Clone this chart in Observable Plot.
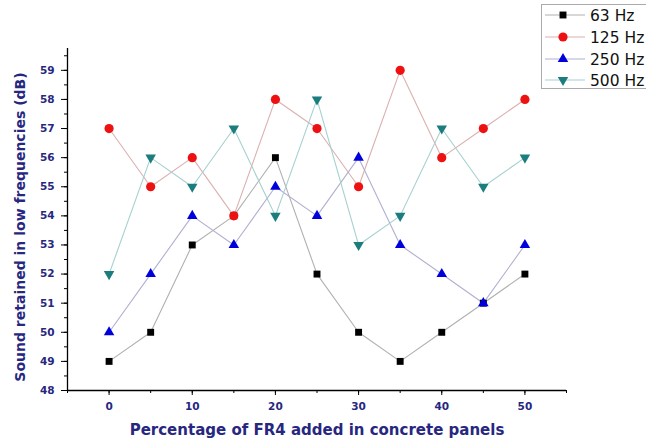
<!DOCTYPE html>
<html><head><meta charset="utf-8">
<script src="https://cdn.jsdelivr.net/npm/d3@7"></script>
<script src="https://cdn.jsdelivr.net/npm/@observablehq/plot@0.6"></script>
<style>
body{margin:0;background:#fff;font-family:"DejaVu Sans",sans-serif;}
#chart{position:relative;width:646px;height:445px;}
</style></head>
<body><div id="chart"></div>
<script>
const fr4 = [0,5,10,15,20,25,30,35,40,45,50];
const hz63  = [49,50,53,54,56,52,50,49,50,51,52];
const hz125 = [57,55,56,54,58,57,55,59,56,57,58];
const hz250 = [50,52,54,53,55,54,56,53,52,51,53];
const hz500 = [52,56,55,57,54,58,53,54,57,55,56];
const seriesNames = ["63 Hz","125 Hz","250 Hz","500 Hz"];
const xTicks = [0,10,20,30,40,50];
const yTicks = [48,49,50,51,52,53,54,55,56,57,58,59];

const triangleDown = {draw(ctx,size){const y=-Math.sqrt(size/(Math.sqrt(3)*3));ctx.moveTo(0,-y*2);ctx.lineTo(-Math.sqrt(3)*y,y);ctx.lineTo(Math.sqrt(3)*y,y);ctx.closePath();}};
const styles = [
  {line:"#b0b0b0", fill:"#000000", symbol:"square", r:3.9},
  {line:"#dcb0b0", fill:"#ee1111", symbol:"circle", r:4.6},
  {line:"#b0b0d0", fill:"#0000dd", symbol:"triangle", r:3.9},
  {line:"#a6d0d0", fill:"#1b7d7d", symbol:triangleDown, r:3.9}
];
const all = [hz63,hz125,hz250,hz500];
const data = all.map((vals,i)=>fr4.map((x,j)=>({x, y:vals[j], s:seriesNames[i]})));
const navy = "#27277f";
const font = '"DejaVu Sans",sans-serif';
const minorX = d3.range(-5,56,5);
const minorY = d3.range(48,59.76,0.5);

const marks = [];
data.forEach((d,i)=>marks.push(Plot.line(d,{x:"x",y:"y",stroke:styles[i].line,strokeWidth:1.1})));
data.forEach((d,i)=>marks.push(Plot.dot(d,{x:"x",y:"y",symbol:styles[i].symbol,r:styles[i].r,fill:styles[i].fill,stroke:"none"})));

const plot = Plot.plot({
  width:646, height:445,
  marginLeft:67, marginRight:80, marginTop:48, marginBottom:55,
  style:{fontFamily:font, background:"#fff"},
  x:{domain:[-5,55]},
  y:{domain:[48,59.75]},
  marks:[
    Plot.axisX({ticks:minorX, tickSize:3, text:null, stroke:"#000", label:null}),
    Plot.axisX({ticks:xTicks, tickSize:5, tickPadding:7, stroke:"#000", fill:navy, fontWeight:"bold", fontSize:10.5, label:null}),
    Plot.axisY({ticks:minorY, tickSize:3, text:null, stroke:"#000", label:null}),
    Plot.axisY({ticks:yTicks, tickSize:6, tickPadding:7, stroke:"#000", fill:navy, fontWeight:"bold", fontSize:10.5, label:null}),
    Plot.ruleY([48],{stroke:"#000",strokeWidth:1.3}),
    Plot.ruleX([-5],{stroke:"#000",strokeWidth:1.3}),
    Plot.text(["Percentage of FR4 added in concrete panels"],{frameAnchor:"bottom", dy:44, fill:navy, fontWeight:"bold", fontSize:15}),
    ...marks
  ]
});
document.getElementById("chart").appendChild(plot);

const svg = d3.select(plot);
// y-axis title
svg.append("text").attr("transform","translate(20,227) rotate(-90)").attr("text-anchor","middle").attr("dy","0.35em")
  .attr("font-size",14).attr("font-weight","bold").attr("fill",navy).text("Sound retained in low frequencies (dB)");

// legend
const lg = svg.append("g").attr("text-anchor","start");
lg.append("rect").attr("x",541.5).attr("y",4.5).attr("width",120).attr("height",84).attr("fill","#fff").attr("stroke","#aaa");
const rowY = [15,37,59,80];
seriesNames.forEach((name,i)=>{
  const g = lg.append("g").attr("transform",`translate(0,${rowY[i]})`);
  g.append("line").attr("x1",545).attr("x2",585).attr("y1",0).attr("y2",0).attr("stroke",styles[i].line).attr("stroke-width",1.2);
  const sym = typeof styles[i].symbol==="string" ? {square:d3.symbolSquare,circle:d3.symbolCircle,triangle:d3.symbolTriangle}[styles[i].symbol] : styles[i].symbol;
  g.append("path").attr("transform","translate(563,0)").attr("d",d3.symbol(sym, Math.PI*styles[i].r*styles[i].r)()).attr("fill",styles[i].fill);
  g.append("text").attr("x",590).attr("y",0).attr("dy","0.36em").attr("text-anchor","start").attr("font-size",15.5).attr("fill","#111").text(name);
});
</script></body></html>
